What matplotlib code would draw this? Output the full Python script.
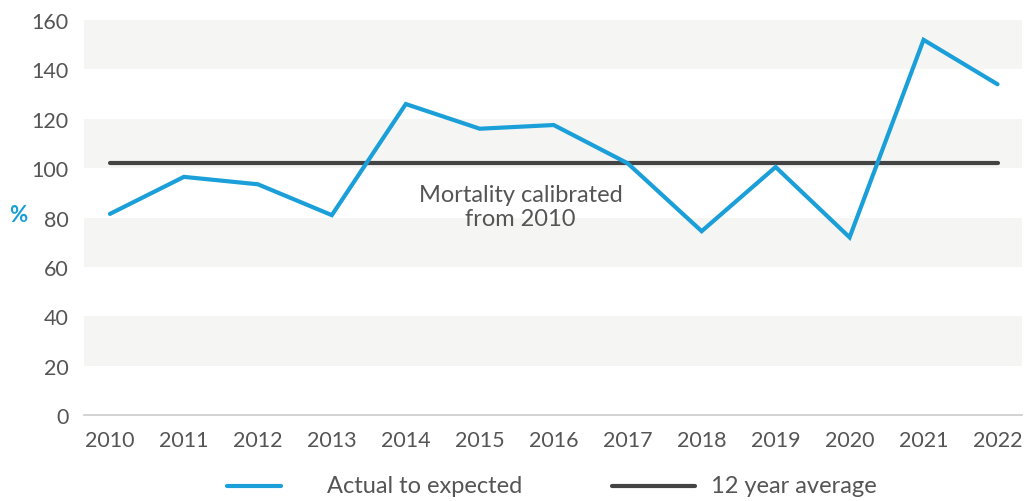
import matplotlib
matplotlib.use("Agg")
import matplotlib.pyplot as plt
from matplotlib.lines import Line2D

years = ["2010","2011","2012","2013","2014","2015","2016","2017","2018","2019","2020","2021","2022"]
actual = [81.5, 96.5, 93.5, 81, 126, 116, 117.5, 102, 74.5, 100.5, 72, 152, 134]
average = 102
yticks = [0, 20, 40, 60, 80, 100, 120, 140, 160]
bands = [(20, 40), (60, 80), (100, 120), (140, 160)]
legend_labels = ["Actual to expected", "12 year average"]

BLUE = "#1a9fd9"
DARK = "#444444"
GREY = "#555555"

plt.rcParams['font.family'] = ['Lato', 'DejaVu Sans']

fig = plt.figure(figsize=(10.25, 5.02), dpi=100)
ax = fig.add_axes([0.082, 0.171, 0.915, 0.787])
x = list(range(len(years)))

for lo, hi in bands:
    ax.axhspan(lo, hi, color="#f5f5f3", zorder=0, lw=0)

ax.plot(x, actual, color=BLUE, lw=3.0, solid_capstyle='round', solid_joinstyle='miter', zorder=3)
ax.plot([x[0], x[-1]], [average, average], color=DARK, lw=3.0, solid_capstyle='round', zorder=2)

ax.text(5.55, 84.5, "Mortality calibrated\nfrom 2010", ha='center', va='center',
        fontsize=17, color=GREY, linespacing=1.15)

ax.set_xlim(-0.35, 12.33)
ax.set_ylim(0, 160)
ax.set_xticks(x)
ax.set_xticklabels(years)
ax.set_yticks(yticks)
for s in ['top', 'right', 'left']:
    ax.spines[s].set_visible(False)
ax.spines['bottom'].set_color("#cccccc")
ax.spines['bottom'].set_linewidth(1.2)
ax.tick_params(axis='both', length=0, labelsize=15.5, colors=GREY, labelcolor=GREY)
ax.tick_params(axis='x', pad=11)
ax.tick_params(axis='y', pad=11)

fig.text(0.009, 1 - 215/502, "%", color=BLUE, fontsize=16, fontweight='bold', ha='left', va='center')

# legend drawn manually in figure coordinates
ly = 1 - 487/502
W = 1025.0
fig.add_artist(Line2D([227/W, 281/W], [ly, ly], color=BLUE, lw=3.0, solid_capstyle='round', transform=fig.transFigure))
fig.text(327/W, ly, legend_labels[0], color=GREY, fontsize=17, ha='left', va='center')
fig.add_artist(Line2D([612/W, 695/W], [ly, ly], color=DARK, lw=3.0, solid_capstyle='round', transform=fig.transFigure))
fig.text(711/W, ly, legend_labels[1], color=GREY, fontsize=17, ha='left', va='center')

fig.savefig("out.png", dpi=100)
